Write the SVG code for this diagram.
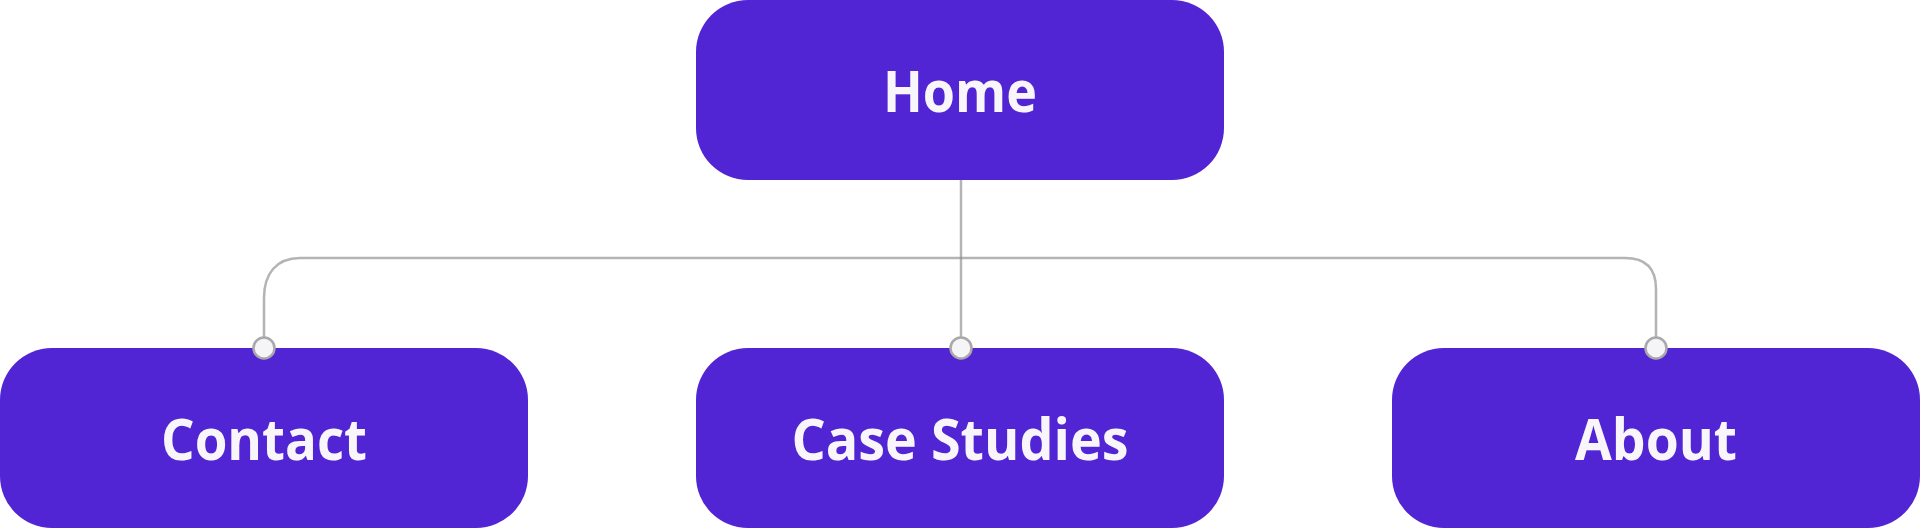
<svg xmlns="http://www.w3.org/2000/svg" width="1920" height="528" viewBox="0 0 1920 528">
<style>
.box{fill:#5125d4}
.lbl{font-family:"Open Sans","Noto Sans","Liberation Sans",sans-serif;font-weight:700;font-size:58px;fill:#f8f6fb;text-anchor:middle}
.edge{fill:none;stroke:#8a8a8a;stroke-opacity:0.64;stroke-width:2.5}
.port{fill:#f5f5f7;stroke:#a9a9a9;stroke-width:2.5}
</style>
<rect width="1920" height="528" fill="#ffffff"/>
<g id="connectors">
<path class="edge" d="M961 180 V348"/>
<path class="edge" d="M961 258 H300 C276 258 264 274 264 298 V348"/>
<path class="edge" d="M961 258 H1625 Q1656 258 1656 289 V348"/>
</g>
<g id="node-home">
<rect class="box" x="696" y="0" width="528" height="180" rx="52"/>
<text class="lbl" x="960" y="112" textLength="154" lengthAdjust="spacingAndGlyphs">Home</text>
</g>
<g id="node-contact">
<rect class="box" x="0" y="348" width="528" height="180" rx="52"/>
<text class="lbl" x="264" y="460" textLength="206" lengthAdjust="spacingAndGlyphs">Contact</text>
<circle class="port" cx="264" cy="348" r="10.5"/>
</g>
<g id="node-case-studies">
<rect class="box" x="696" y="348" width="528" height="180" rx="52"/>
<text class="lbl" x="960" y="460" textLength="337" lengthAdjust="spacingAndGlyphs">Case Studies</text>
<circle class="port" cx="961" cy="348" r="10.5"/>
</g>
<g id="node-about">
<rect class="box" x="1392" y="348" width="528" height="180" rx="52"/>
<text class="lbl" x="1656" y="460" textLength="162" lengthAdjust="spacingAndGlyphs">About</text>
<circle class="port" cx="1656" cy="348" r="10.5"/>
</g>
</svg>
